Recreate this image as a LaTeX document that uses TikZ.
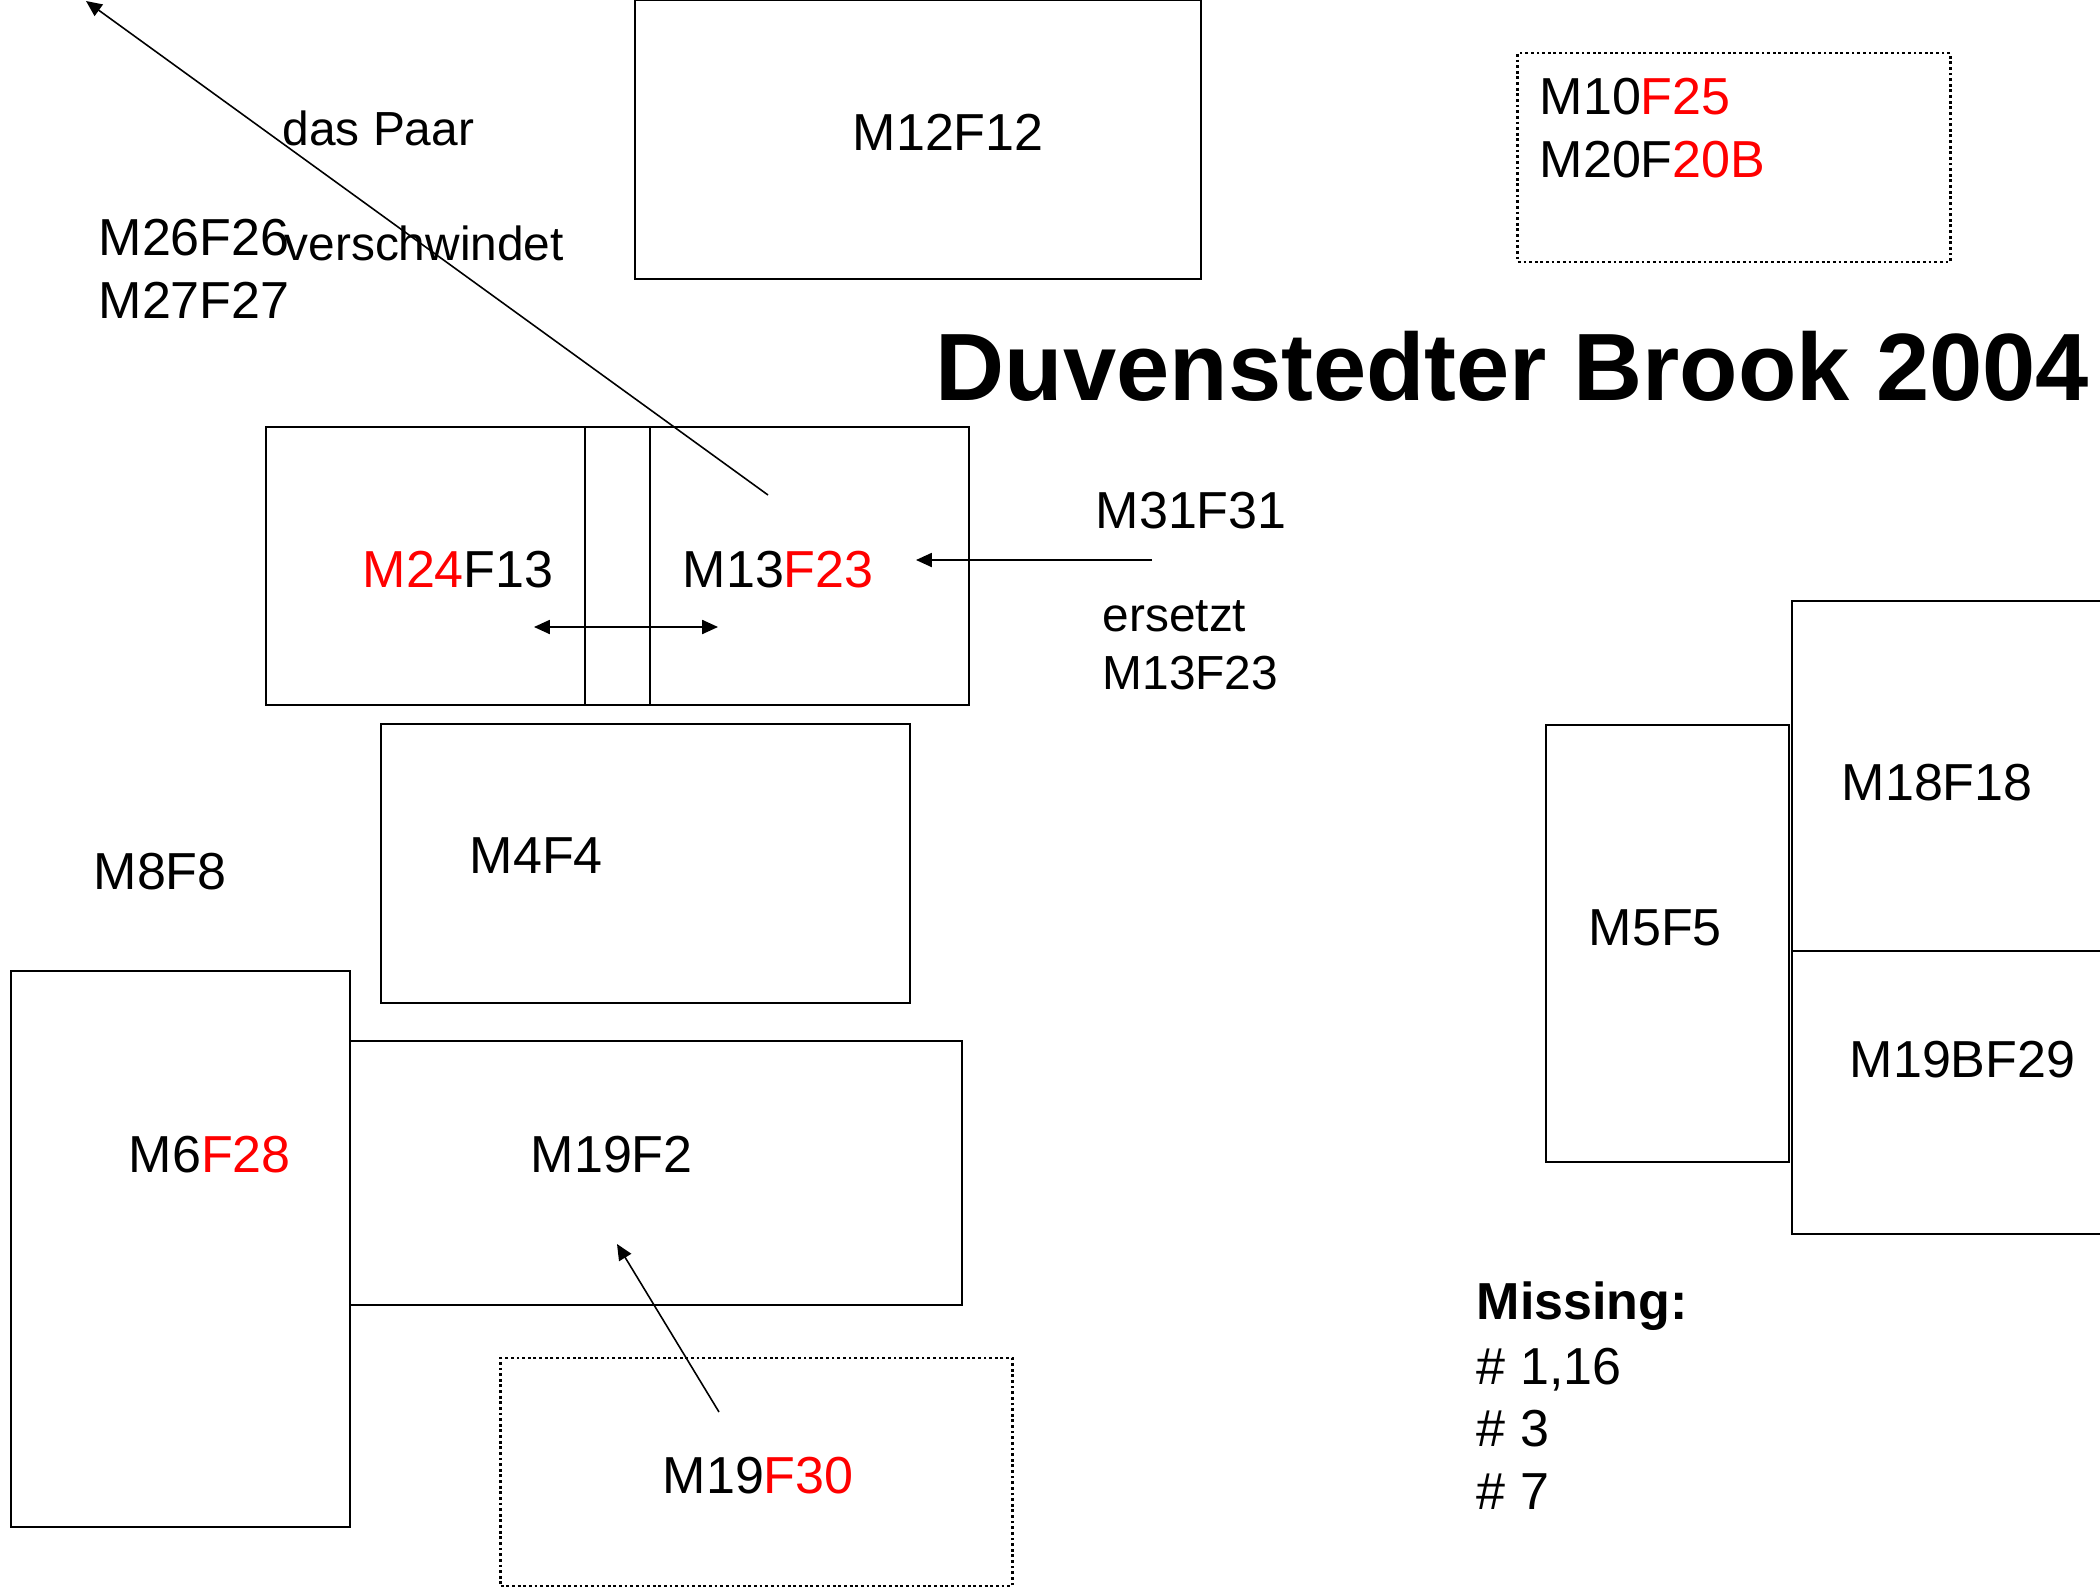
\documentclass[tikz,border=0pt]{standalone}
\usepackage{fontspec}
\setmainfont{Liberation Sans}
\usepackage{xcolor}
\usetikzlibrary{arrows.meta, positioning}

\begin{document}
\begin{tikzpicture}[
  x=0.01cm, y=-0.01cm,
  box/.style={rectangle, draw, line width=0.7pt, inner sep=0pt, outer sep=0pt},
  dotbox/.style={box, line width=0.8pt, dash pattern=on 0.8pt off 0.8pt},
  lbl/.style={anchor=base west, inner sep=0pt, font=\fontsize{14.8}{17}\selectfont},
  note/.style={lbl, font=\fontsize{13.6}{16}\selectfont},
  arrow/.style={-{Triangle[length=4.5pt, width=4pt]}, line width=0.45pt},
  twoway/.style={{Triangle[length=4.5pt, width=4pt]}-{Triangle[length=4.5pt, width=4pt]}, line width=0.45pt}
]
  \useasboundingbox (0,0) rectangle (2100,1588);

  % territories
  \node[box, minimum width=5.66cm, minimum height=2.79cm] (m12box) at (918,139.5) {};
  \node[box, minimum width=3.19cm, minimum height=2.78cm] (pairL) at (425.5,566) {};
  \node[box, minimum width=0.65cm, minimum height=2.78cm] (gapbox) at (617.5,566) {};
  \node[box, minimum width=3.19cm, minimum height=2.78cm] (pairR) at (809.5,566) {};
  \node[dotbox, minimum width=4.32cm, minimum height=2.09cm] (topdot) at (1734,157.5) {};
  \node[box, minimum width=5.29cm, minimum height=2.79cm] (m4box) at (645.5,863.5) {};
  \node[box, minimum width=3.39cm, minimum height=5.56cm] (m6box) at (180.5,1249) {};
  \node[box, minimum width=6.12cm, minimum height=2.64cm] (m19box) at (656,1173) {};
  \node[dotbox, minimum width=5.11cm, minimum height=2.28cm] (m30box) at (756.5,1472) {};
  \node[box, minimum width=2.43cm, minimum height=4.37cm] (m5box) at (1667.5,943.5) {};
  \node[box, minimum width=3.28cm, minimum height=3.50cm] (m18box) at (1956,776) {};
  \node[box, minimum width=3.28cm, minimum height=2.83cm] (m29box) at (1956,1092.5) {};

  % pairs
  \node[lbl] (m12) at (852,150) {M12F12};
  \node[lbl] (m10) at (1539,115) {M10\textcolor{red}{F25}};
  \node[lbl] (m20) at (1539,178) {M20F\textcolor{red}{20B}};
  \node[lbl] (m26) at (98,255) {M26F26};
  \node[lbl] (m27) at (98,318) {M27F27};
  \node[note] (paar) at (282,146) {das Paar};
  \node[note] (weg) at (284,261) {verschwindet};
  \node[lbl] (m24) at (362,587) {\textcolor{red}{M24}F13};
  \node[lbl] (m13) at (682,587) {M13\textcolor{red}{F23}};
  \node[lbl] (m31) at (1095,528) {M31F31};
  \node[note] (ers) at (1102,631) {ersetzt};
  \node[note] (ersm) at (1102,689) {M13F23};
  \node[lbl] (m4) at (469,873) {M4F4};
  \node[lbl] (m8) at (93,889) {M8F8};
  \node[lbl] (m6) at (128,1172) {M6\textcolor{red}{F28}};
  \node[lbl] (m19) at (530,1172) {M19F2};
  \node[lbl] (m30) at (662,1493) {M19\textcolor{red}{F30}};
  \node[lbl] (m5) at (1588,945) {M5F5};
  \node[lbl] (m18) at (1841,800) {M18F18};
  \node[lbl] (m29) at (1849,1077) {M19BF29};

  \node[lbl, font=\bfseries\fontsize{27.2}{32}\selectfont] (title) at (935,400) {Duvenstedter Brook 2004};

  \node[lbl, font=\bfseries\fontsize{14.8}{17}\selectfont] (miss) at (1476,1319) {Missing:};
  \node[lbl] (miss1) at (1476,1384) {\# 1,16};
  \node[lbl] (miss3) at (1476,1446) {\# 3};
  \node[lbl] (miss7) at (1476,1509) {\# 7};

  % moves
  \coordinate (goneS) at (768,495);
  \coordinate (goneE) at (86,1);
  \coordinate (swapL) at (534,627);
  \coordinate (swapR) at (718,627);
  \coordinate (newS) at (1152,560);
  \coordinate (newE) at (916,560);
  \coordinate (f30S) at (719,1412);
  \coordinate (f30E) at (617,1244);
  \draw[arrow] (goneS) -- (goneE);
  \draw[twoway] (swapL) -- (swapR);
  \draw[arrow] (newS) -- (newE);
  \draw[arrow] (f30S) -- (f30E);
\end{tikzpicture}
\end{document}
